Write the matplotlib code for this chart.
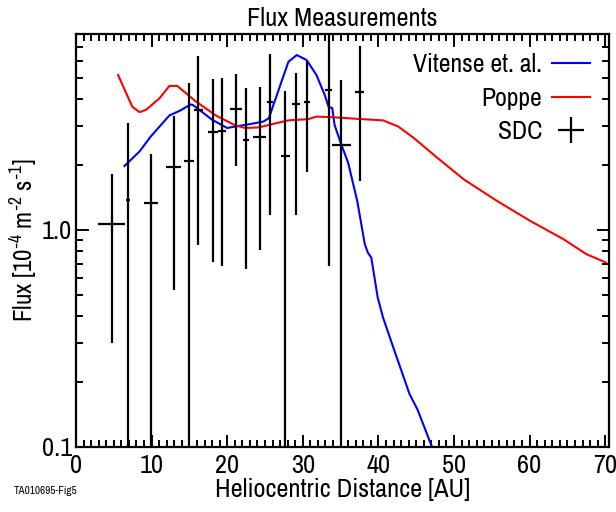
import matplotlib
matplotlib.use('Agg')
import matplotlib.pyplot as plt
import matplotlib.ticker as mticker
import numpy as np

plt.rcParams.update({
    'font.family': ['Archivo Narrow', 'Roboto Condensed', 'Liberation Sans', 'DejaVu Sans'],
    'mathtext.default': 'regular',
    'axes.linewidth': 1.6,
    'xtick.direction': 'in', 'ytick.direction': 'in',
    'xtick.top': True, 'ytick.right': True,
})

# --- Vitense et al. model (blue)
vit_x = [6.4, 8.4, 9.9, 12.35, 13.7, 15.2, 15.5, 16.3, 18.0, 20.0, 21.1, 22.9, 24.8,
         25.5, 26.8, 28.1, 29.2, 30.5, 31.8, 32.9, 33.4, 33.9, 34.2, 35.1, 36.0,
         37.2, 38.2, 38.6, 39.06, 39.9, 40.6, 42.1, 44.1, 45.2, 46.9, 47.1]
vit_y = [1.97, 2.30, 2.70, 3.37, 3.54, 3.79, 3.76, 3.58, 3.22, 2.95, 3.0, 3.07, 3.16,
         3.27, 4.42, 5.96, 6.4, 6.07, 5.18, 4.19, 3.7, 3.64, 3.05, 2.47, 2.04,
         1.36, 0.86, 0.787, 0.746, 0.49, 0.396, 0.279, 0.176, 0.148, 0.104, 0.1]

# --- Poppe model (red)
pop_x = [5.56, 7.44, 8.4, 9.28, 11.03, 12.35, 13.4, 15.85, 18.5, 21.1, 22.4, 24.2,
         26.4, 28.1, 30.7, 31.8, 33.9, 37.3, 40.6, 42.6, 44.7, 47.8, 51.3, 55.7,
         60.1, 64.5, 67.5, 70.1]
pop_y = [5.18, 3.7, 3.49, 3.58, 4.04, 4.61, 4.61, 3.91, 3.37, 3.03, 2.95, 2.97,
         3.1, 3.2, 3.24, 3.33, 3.31, 3.25, 3.2, 3.0, 2.65, 2.15, 1.71, 1.36,
         1.10, 0.906, 0.774, 0.708]

# --- SDC measurements (lower bound 0.01 = bar runs off the bottom)
sdc_x = [4.7, 6.9, 9.9, 12.9, 14.9, 16.2, 18.1, 19.3, 21.2, 22.5, 24.3, 25.7,
         27.7, 29.1, 30.6, 33.4, 35.1, 37.5]
sdc_xerr = [1.75, 0.25, 0.95, 1.0, 0.65, 0.55, 0.65, 0.55, 0.8, 0.44, 0.88, 0.42,
            0.6, 0.55, 0.4, 0.4, 1.3, 0.57]
sdc_y = [1.07, 1.37, 1.33, 1.95, 2.07, 3.58, 2.84, 2.86, 3.6, 2.59, 2.69, 3.87,
         2.2, 3.8, 3.89, 4.43, 2.47, 4.34]
sdc_lo = [0.30, 0.01, 0.01, 0.53, 0.01, 0.85, 0.71, 0.68, 1.98, 0.66, 0.81, 1.17,
          0.01, 1.17, 1.85, 0.68, 0.01, 1.69]
sdc_hi = [1.81, 3.1, 2.24, 3.36, 4.74, 6.35, 4.97, 5.0, 5.21, 4.5, 4.54, 6.5,
          4.37, 5.27, 6.0, 20.0, 4.91, 7.03]

fig = plt.figure(figsize=(6.16, 5.12), dpi=100)
ax = fig.add_axes([0.1234, 0.127, 0.8652, 0.8066])

ax.plot(vit_x, vit_y, color='#0000ff', lw=1.5, label='Vitense et. al.')
ax.plot(pop_x, pop_y, color='#ff0000', lw=1.5, label='Poppe')

y = np.array(sdc_y)
yerr = [y - np.array(sdc_lo), np.array(sdc_hi) - y]
ax.errorbar(sdc_x, sdc_y, xerr=sdc_xerr, yerr=yerr, fmt='none',
            ecolor='black', elinewidth=1.6, capsize=0, label='SDC')

ax.set_yscale('log')
ax.set_xlim(0, 70.5)
ax.set_ylim(0.1, 8.0)

ax.xaxis.set_major_locator(mticker.MultipleLocator(10))
ax.xaxis.set_minor_locator(mticker.MultipleLocator(1))
ax.yaxis.set_major_locator(mticker.FixedLocator([0.1, 1.0]))
ax.yaxis.set_major_formatter(mticker.FixedFormatter(['0.1', '1.0']))
ax.yaxis.set_minor_locator(mticker.LogLocator(base=10, subs=np.arange(2, 10)))
ax.yaxis.set_minor_formatter(mticker.NullFormatter())

ax.tick_params(which='major', length=9, width=1.4, labelsize=19, pad=3)
ax.tick_params(axis='x', which='major', pad=5)
ax.tick_params(which='minor', length=5, width=1.4)

ax.set_xlabel('Heliocentric Distance [AU]', fontsize=19, labelpad=1)
ax.set_ylabel(r'Flux [10$^{\text{-}4}$ m$^{\text{-}2}$ s$^{\text{-}1}$]', fontsize=18, labelpad=1)
ax.set_title('Flux Measurements', fontsize=19, pad=6)

ax.legend(loc='upper right', frameon=False, markerfirst=False, fontsize=18.5,
          handlelength=1.45, handletextpad=0.4, labelspacing=0.4,
          borderaxespad=0.35)

fig.text(0.022, 0.035, 'TA010695-Fig5', fontsize=8)

fig.savefig('out.png', dpi=100)
